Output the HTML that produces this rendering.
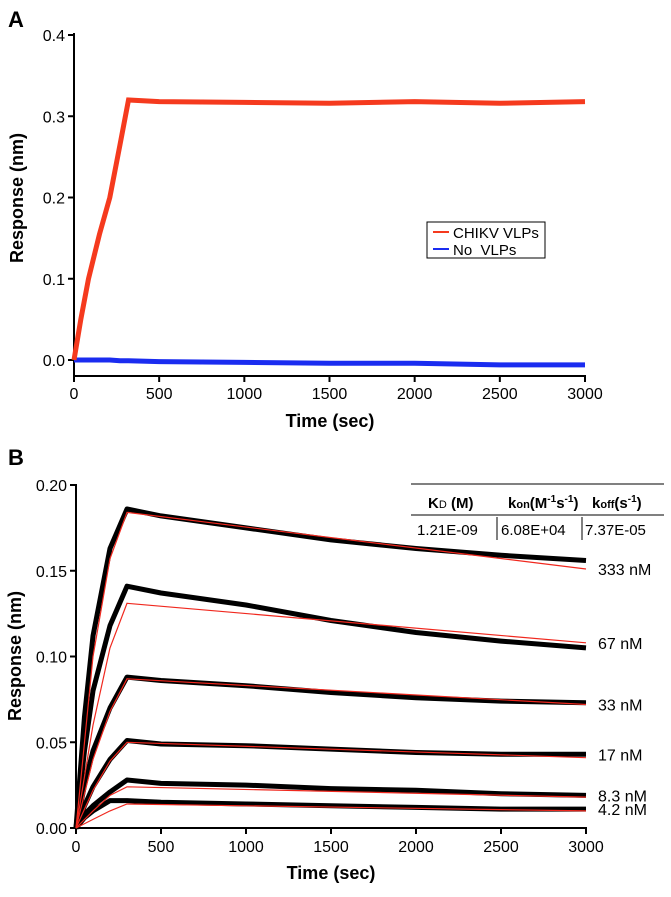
<!DOCTYPE html>
<html><head><meta charset="utf-8"><style>
body{margin:0;background:#fff;width:671px;height:892px;overflow:hidden;font-family:"Liberation Sans",Arial,sans-serif}
svg text{font-family:"Liberation Sans",Arial,sans-serif}
</style></head><body>
<svg id="fig" width="671" height="892" viewBox="0 0 671 892"></svg>
<script>
// ---------- data ----------
const aTicksX=[0,500,1000,1500,2000,2500,3000];
const aTicksY=[0.0,0.1,0.2,0.3,0.4];
const aTime=[0,40,85,150,210,270,320,500,1000,1500,2000,2500,3000];
const aChikv=[0,0.05,0.1,0.155,0.2,0.265,0.32,0.318,0.317,0.316,0.318,0.316,0.318];
const aNoVlp=[0,0,0,0,0,-0.001,-0.001,-0.002,-0.003,-0.004,-0.004,-0.006,-0.006];
const bTicksX=[0,500,1000,1500,2000,2500,3000];
const bTicksY=[0.00,0.05,0.10,0.15,0.20];
const bConc=["333 nM","67 nM","33 nM","17 nM","8.3 nM","4.2 nM"];
const bTime=[0,50,100,200,300,500,1000,1500,2000,2500,3000];
const bData=[
 [0,0.065,0.112,0.163,0.186,0.182,0.175,0.168,0.163,0.159,0.156],
 [0,0.045,0.08,0.118,0.141,0.137,0.130,0.121,0.114,0.109,0.105],
 [0,0.025,0.045,0.07,0.088,0.086,0.083,0.079,0.076,0.074,0.073],
 [0,0.013,0.024,0.04,0.051,0.049,0.048,0.046,0.044,0.043,0.043],
 [0,0.008,0.013,0.021,0.028,0.026,0.025,0.023,0.022,0.020,0.019],
 [0,0.006,0.010,0.016,0.016,0.015,0.014,0.013,0.012,0.011,0.011]];
const bFitTime=[0,100,200,300,3000];
const bFit=[
 [0,0.1,0.157,0.184,0.151],
 [0,0.06,0.105,0.131,0.108],
 [0,0.04,0.068,0.087,0.072],
 [0,0.022,0.039,0.050,0.041],
 [0,0.01,0.019,0.024,0.018],
 [0,0.005,0.01,0.014,0.010]];
const bLabelY=[0.151,0.108,0.072,0.043,0.019,0.011];

// ---------- helpers ----------
const NS="http://www.w3.org/2000/svg";
const svg=document.getElementById('fig');
function mk(tag,attrs,parent,txt){const e=document.createElementNS(NS,tag);for(const k in attrs)e.setAttribute(k,attrs[k]);if(txt!==undefined)e.textContent=txt;(parent||svg).appendChild(e);return e;}
function pts(xs,ys,fx,fy){return xs.map((t,i)=>fx(t).toFixed(1)+','+fy(ys[i]).toFixed(1)).join(' ');}

// ---------- Panel A ----------
const axA=x=>74+x*(585-74)/3000;
const ayA=y=>360-y*(325/0.4);
const gA=mk('g',{});


let t=mk('text',{x:8,y:27,'font-size':22,'font-weight':'bold'},gA,'A');

mk('line',{x1:74,y1:33,x2:74,y2:377,stroke:'#000','stroke-width':2},gA);
mk('line',{x1:73,y1:376,x2:586,y2:376,stroke:'#000','stroke-width':2},gA);
aTicksY.forEach(v=>{const y=ayA(v);mk('line',{x1:68,y1:y,x2:74,y2:y,stroke:'#000','stroke-width':2},gA);
 const l=mk('text',{x:65,y:y+6,'font-size':16,'text-anchor':'end'},gA,v.toFixed(1));
 });
aTicksX.forEach(v=>{const x=axA(v);mk('line',{x1:x,y1:376,x2:x,y2:382,stroke:'#000','stroke-width':2},gA);
 const l=mk('text',{x:x,y:399,'font-size':16,'text-anchor':'middle'},gA,String(v));
 });
t=mk('text',{x:330,y:427,'font-size':18,'font-weight':'bold','text-anchor':'middle'},gA,'Time (sec)');

t=mk('text',{x:0,y:0,'font-size':18,'font-weight':'bold','text-anchor':'middle',transform:'translate(23,198) rotate(-90)'},gA,'Response (nm)');

let p=mk('polyline',{points:pts(aTime,aNoVlp,axA,ayA),fill:'none',stroke:'#1a2cf0','stroke-width':5},gA);

p=mk('polyline',{points:pts(aTime,aChikv,axA,ayA),fill:'none',stroke:'#f53a1e','stroke-width':5},gA);

const lg=mk('g',{},gA);

mk('rect',{x:427,y:222,width:118,height:36,fill:'#fff',stroke:'#000','stroke-width':1},lg);
mk('line',{x1:433,y1:232,x2:449,y2:232,stroke:'#f53a1e','stroke-width':2},lg);
t=mk('text',{x:453,y:238,'font-size':15},lg,'CHIKV VLPs');

mk('line',{x1:433,y1:249,x2:449,y2:249,stroke:'#1a2cf0','stroke-width':2},lg);
t=mk('text',{x:453,y:255,'font-size':15},lg,'No\u00a0 VLPs');


// ---------- Panel B ----------
const axB=x=>76+x*(586-76)/3000;
const ayB=y=>828-y*(343/0.2);
const gB=mk('g',{});


t=mk('text',{x:8,y:465,'font-size':22,'font-weight':'bold'},gB,'B');

mk('line',{x1:76,y1:484,x2:76,y2:829,stroke:'#000','stroke-width':2},gB);
mk('line',{x1:75,y1:828,x2:587,y2:828,stroke:'#000','stroke-width':2},gB);
bTicksY.forEach(v=>{const y=ayB(v);mk('line',{x1:70,y1:y,x2:76,y2:y,stroke:'#000','stroke-width':2},gB);
 const l=mk('text',{x:67,y:y+6,'font-size':16,'text-anchor':'end'},gB,v.toFixed(2));
 });
bTicksX.forEach(v=>{const x=axB(v);mk('line',{x1:x,y1:828,x2:x,y2:834,stroke:'#000','stroke-width':2},gB);
 const l=mk('text',{x:x,y:852,'font-size':16,'text-anchor':'middle'},gB,String(v));
 });
t=mk('text',{x:331,y:879,'font-size':18,'font-weight':'bold','text-anchor':'middle'},gB,'Time (sec)');

t=mk('text',{x:0,y:0,'font-size':18,'font-weight':'bold','text-anchor':'middle',transform:'translate(21,656) rotate(-90)'},gB,'Response (nm)');

bData.forEach((s,i)=>{
 const d=mk('polyline',{points:pts(bTime,s,axB,ayB),fill:'none',stroke:'#000','stroke-width':5,'stroke-linejoin':'round'},gB);
 });
bFit.forEach((s,i)=>{
 const f=mk('polyline',{points:pts(bFitTime,s,axB,ayB),fill:'none',stroke:'#f0281e','stroke-width':1.2},gB);
 });
bConc.forEach((c,i)=>{
 const l=mk('text',{x:598,y:ayB(bLabelY[i])+6,'font-size':16},gB,c);
 });
// table
const tb=mk('g',{},gB);

mk('line',{x1:411,y1:484,x2:664,y2:484,stroke:'#000','stroke-width':1},tb);
mk('line',{x1:411,y1:515,x2:664,y2:515,stroke:'#000','stroke-width':1},tb);
mk('line',{x1:497,y1:517,x2:497,y2:540,stroke:'#000','stroke-width':1},tb);
mk('line',{x1:582,y1:517,x2:582,y2:540,stroke:'#000','stroke-width':1},tb);
t=mk('text',{x:428,y:508,'font-size':15,'font-weight':'bold'},tb);
t.innerHTML='K<tspan font-size="11" font-weight="normal">D</tspan> (M)';
t=mk('text',{x:508,y:508,'font-size':15,'font-weight':'bold'},tb);
t.innerHTML='k<tspan font-size="11">on</tspan>(M<tspan font-size="10" dy="-6">-1</tspan><tspan dy="6">s</tspan><tspan font-size="10" dy="-6">-1</tspan><tspan dy="6">)</tspan>';
t=mk('text',{x:592,y:508,'font-size':15,'font-weight':'bold'},tb);
t.innerHTML='k<tspan font-size="11">off</tspan>(s<tspan font-size="10" dy="-6">-1</tspan><tspan dy="6">)</tspan>';
mk('text',{x:417,y:535,'font-size':15},tb,'1.21E-09');
mk('text',{x:501,y:535,'font-size':15},tb,'6.08E+04');
mk('text',{x:585,y:535,'font-size':15},tb,'7.37E-05');
</script>
</body></html>
